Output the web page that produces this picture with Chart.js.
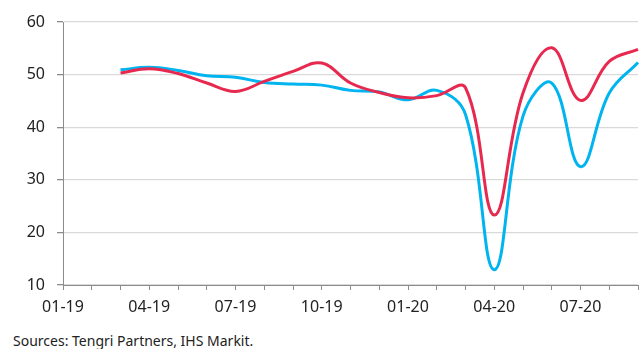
<!DOCTYPE html>
<html>
<head>
<meta charset="utf-8">
<script src="https://cdn.jsdelivr.net/npm/chart.js@4.4.1/dist/chart.umd.min.js"></script>
<style>
  html,body{margin:0;padding:0;background:#fff;}
  #wrap{position:relative;width:641px;height:349px;}
  #box{position:absolute;left:0;top:0;width:641px;height:322px;}
  #src{position:absolute;left:13px;top:331px;font-family:'Noto Sans',sans-serif;font-size:14px;color:#222;white-space:nowrap;}
</style>
</head>
<body>
<div id="wrap">
  <div id="box"><canvas id="pmiChart"></canvas></div>
  <div id="src">Sources: Tengri Partners, IHS Markit.</div>
</div>
<script>
/* ── Data ── */
const MONTHS = ['01-19','02-19','03-19','04-19','05-19','06-19','07-19','08-19','09-19','10-19','11-19','12-19',
                '01-20','02-20','03-20','04-20','05-20','06-20','07-20','08-20','09-20'];
const RED  = [null,null,50.3,51.1,50.2,48.4,46.8,48.7,50.6,52.2,48.4,46.6,45.6,46.0,47.5,23.3,46.5,55.1,45.1,52.5,54.8];
const BLUE = [null,null,50.9,51.4,50.8,49.8,49.5,48.5,48.2,48.0,47.0,46.7,45.2,47.0,42.4,12.9,42.1,48.4,32.5,46.5,52.3];
const Y_TICKS = [10,20,30,40,50,60];

const FONT = {family:'Noto Sans', size:16};

const ctx = document.getElementById('pmiChart').getContext('2d');
new Chart(ctx, {
  type:'line',
  data:{
    labels: MONTHS,
    datasets:[
      { label:'Red',  data:RED,  borderColor:'#E8294F', borderWidth:3, tension:.4, fill:false, pointRadius:0 },
      { label:'Blue', data:BLUE, borderColor:'#00B4F0', borderWidth:3, tension:.4, fill:false, pointRadius:0 },
    ]
  },
  options:{
    responsive:true, maintainAspectRatio:false, animation:false,
    layout:{ padding:{ top:22, right:3, left:0, bottom:0 } },
    plugins:{ legend:{display:false}, tooltip:{enabled:false} },
    scales:{
      x:{
        offset:false,
        grid:{ drawOnChartArea:false, drawTicks:true, tickLength:5, color:'#8c8c8c' },
        border:{ color:'#8c8c8c', width:1 },
        ticks:{ autoSkip:false, maxRotation:0, color:'#222', font:FONT, padding:8,
                callback:(v,i)=> i%3===0 ? MONTHS[i] : '' },
        afterFit:s=>{ s.height = 37; s.paddingRight = 0; }
      },
      y:{
        min:10, max:60,
        afterBuildTicks:s=>{ s.ticks = Y_TICKS.map(v=>({value:v})); },
        grid:{ color:'#d9d9d9', lineWidth:1.3, tickLength:6, tickColor:'#8c8c8c' },
        border:{ color:'#8c8c8c', width:1 },
        ticks:{ color:'#222', font:FONT, padding:12 },
        afterFit:s=>{ s.width = 63; }
      }
    }
  }
});
</script>
</body>
</html>
